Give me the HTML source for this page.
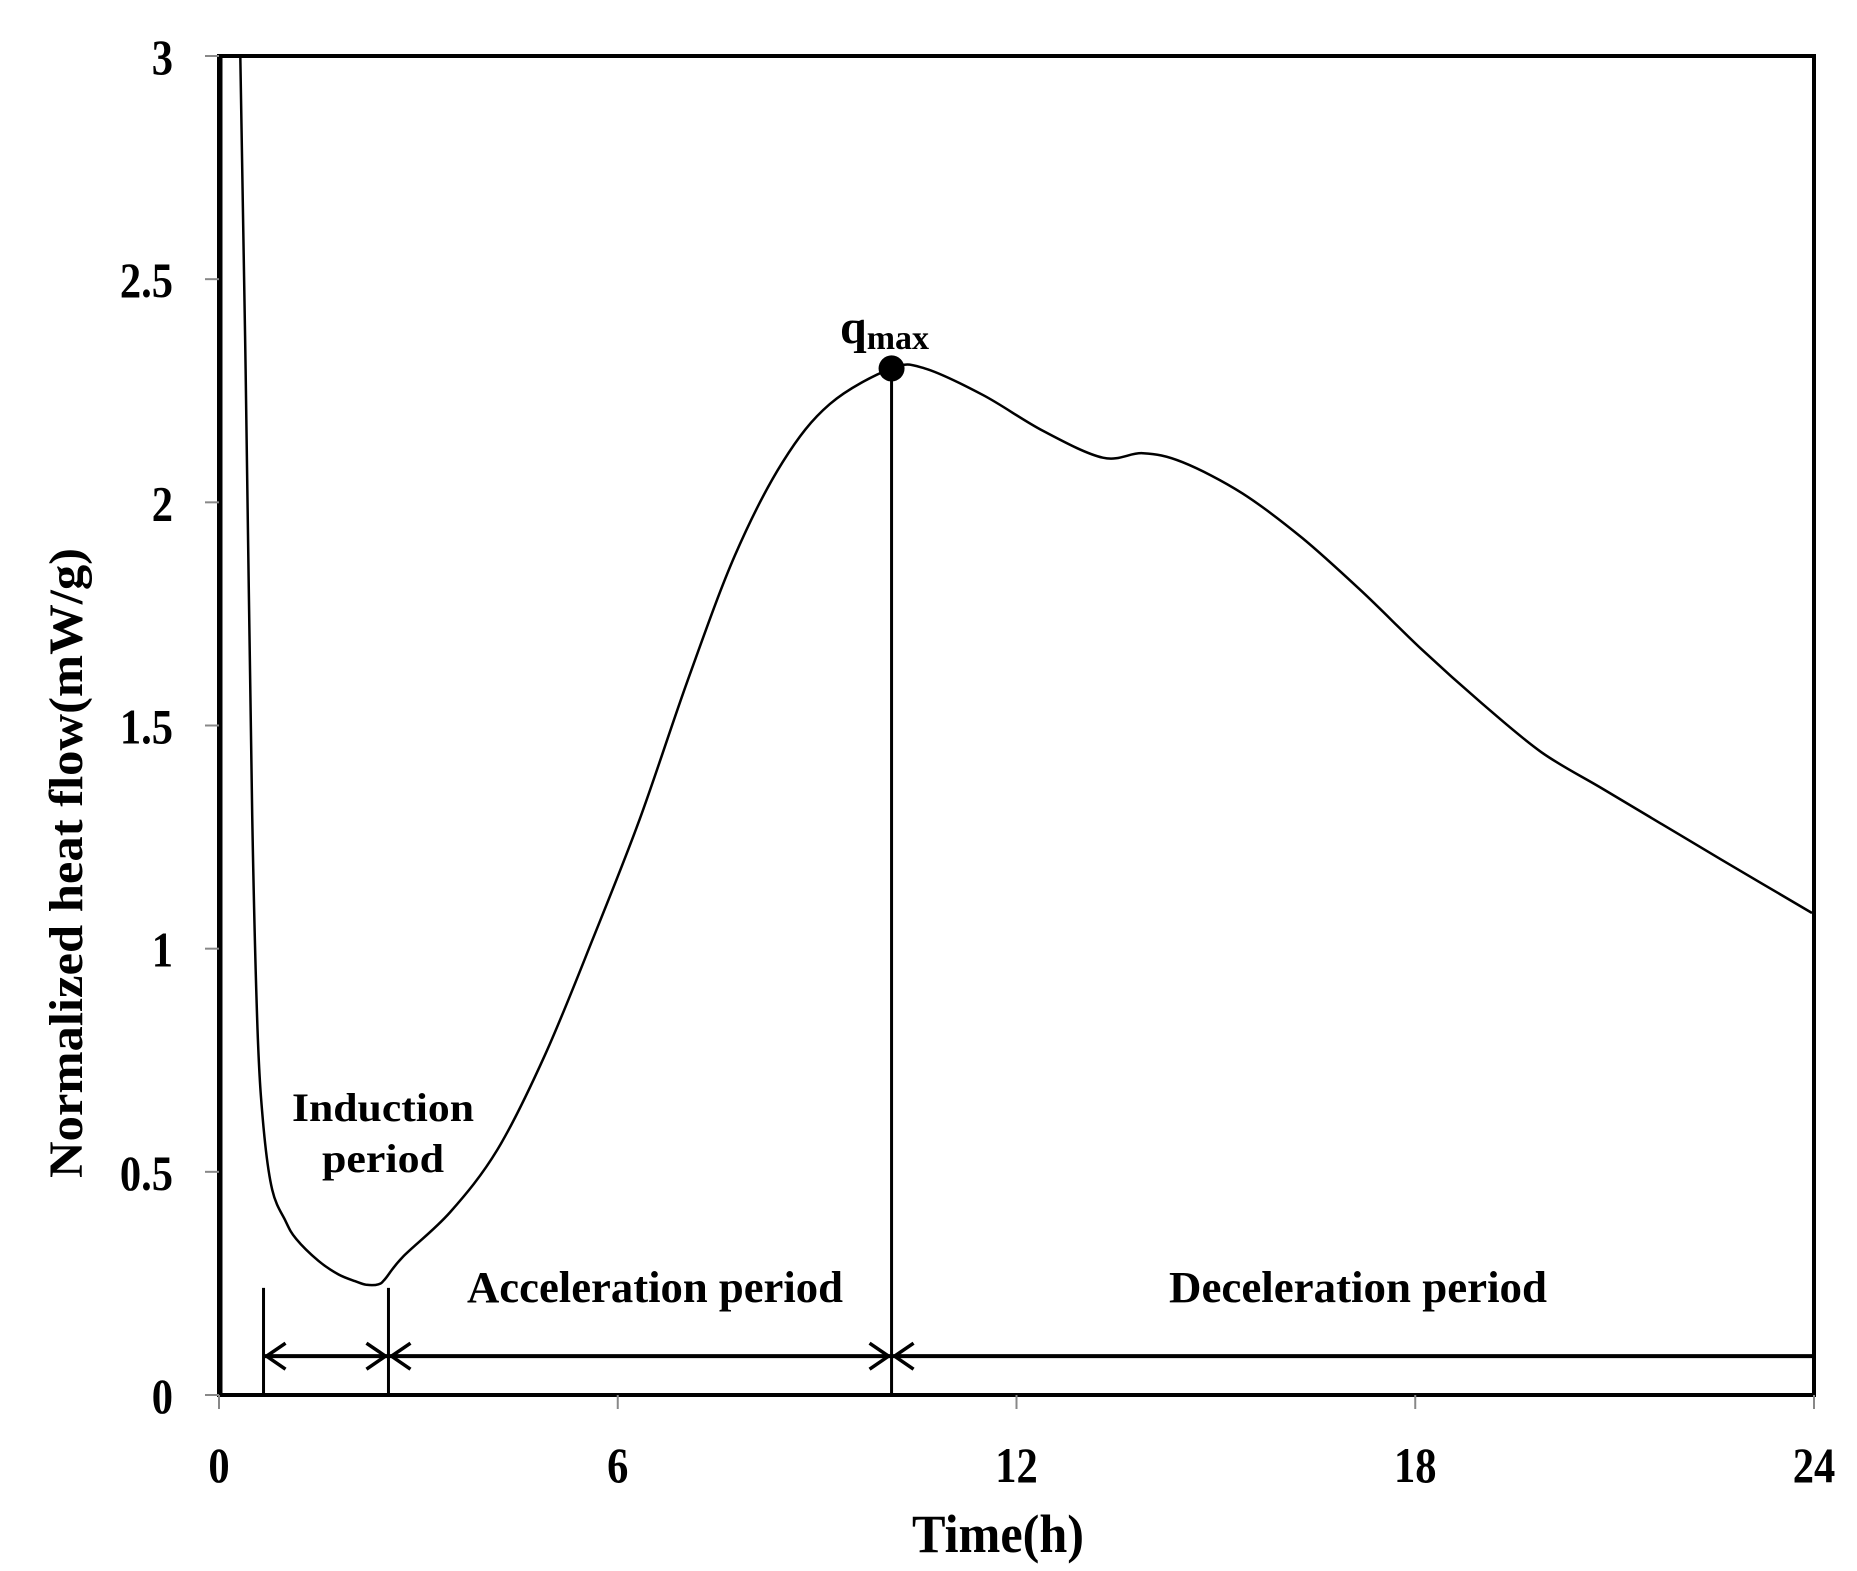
<!DOCTYPE html>
<html><head><meta charset="utf-8"><style>
html,body{margin:0;padding:0;background:#fff}
svg{display:block}
text{font-family:"Liberation Serif",serif;font-weight:bold;fill:#000}
</style></head><body>
<svg id="chart" width="1857" height="1571" viewBox="0 0 1857 1571">
<g id="axes"></g>
<g id="marks"></g>
<g id="labels"></g>
</svg>
<script>
const xTicks = [0, 6, 12, 18, 24];
const yTicks = [0, 0.5, 1, 1.5, 2, 2.5, 3];
const yTickLabels = ["0", "0.5", "1", "1.5", "2", "2.5", "3"];
const times = [0.32, 0.4, 0.5, 0.58, 0.67, 0.8, 1.0, 1.16, 1.5, 1.8, 2.05, 2.22, 2.4, 2.5, 2.77, 3.48, 4.19, 4.9, 5.62, 6.33, 7.05, 7.76, 8.48, 9.19, 10.12, 10.62, 11.5, 12.4, 13.3, 13.9, 14.5, 15.4, 16.3, 17.2, 18.1, 19.0, 19.9, 20.8, 21.7, 22.6, 23.97];
const heatFlow = [3.0, 2.3, 1.3, 0.82, 0.6, 0.46, 0.39, 0.35, 0.30, 0.27, 0.255, 0.247, 0.248, 0.26, 0.31, 0.41, 0.55, 0.76, 1.02, 1.29, 1.60, 1.88, 2.09, 2.22, 2.30, 2.30, 2.24, 2.16, 2.10, 2.11, 2.09, 2.02, 1.92, 1.80, 1.67, 1.55, 1.44, 1.36, 1.28, 1.20, 1.08];
const phaseBounds = [0.67, 2.55, 10.12, 24];
const qmaxPoint = [10.12, 2.30];
const arrowLevel = 0.087;
const phaseTickTop = 0.24;

const X0 = 219, X1 = 1814, Y0 = 1395, Y1 = 56;
const xs = t => X0 + (t / 24) * (X1 - X0);
const ys = v => Y0 - (v / 3) * (Y0 - Y1);
const NS = "http://www.w3.org/2000/svg";
function mk(tag, parent, attrs) {
  const e = document.createElementNS(NS, tag);
  for (const k in attrs) e.setAttribute(k, attrs[k]);
  parent.appendChild(e);
  return e;
}
const axes = document.getElementById('axes');
const marks = document.getElementById('marks');
const labels = document.getElementById('labels');

const defs = mk('defs', document.getElementById('chart'), {});
const cp = mk('clipPath', defs, {id: 'plotclip'});
mk('rect', cp, {x: X0, y: Y1, width: X1 - X0, height: Y0 - Y1});

const frame = mk('rect', axes, {x: X0, y: Y1, width: X1 - X0, height: Y0 - Y1, fill: 'none', stroke: '#000', 'stroke-width': 4});



function label(txt, x, y, size, name, extra) {
  const t = mk('text', labels, Object.assign({x: x, y: y, 'text-anchor': 'middle', 'font-size': size}, extra || {}));
  t.textContent = txt;
  
  
  return t;
}

yTicks.forEach((v, i) => {
  const tk = mk('line', axes, {x1: X0 - 14, x2: X0, y1: ys(v), y2: ys(v), stroke: '#888', 'stroke-width': 2});
  
  
  const t = mk('text', axes, {x: 173, y: ys(v) + 18, 'text-anchor': 'end', 'font-size': 50, transform: `translate(173,0) scale(0.85,1) translate(-173,0)`});
  t.textContent = yTickLabels[i];
  
  
});
xTicks.forEach(v => {
  const tk = mk('line', axes, {x1: xs(v), x2: xs(v), y1: Y0, y2: Y0 + 14, stroke: '#888', 'stroke-width': 2});
  
  
  const cx = xs(v);
  const t = mk('text', axes, {x: cx, y: 1482, 'text-anchor': 'middle', 'font-size': 50, transform: `translate(${cx},0) scale(0.85,1) translate(${-cx},0)`});
  t.textContent = String(v);
  
  
});

// initial spike along axis
const spike = mk('line', marks, {x1: xs(0) + 2, x2: xs(0) + 2, y1: Y0, y2: Y1, stroke: '#000', 'stroke-width': 3});



// smooth curve (Catmull-Rom)
const P = times.map((t, i) => [xs(t), ys(heatFlow[i])]);
let d = 'M' + P[0][0].toFixed(1) + ',' + P[0][1].toFixed(1);
for (let i = 0; i < P.length - 1; i++) {
  const p0 = P[Math.max(0, i - 1)], p1 = P[i], p2 = P[i + 1], p3 = P[Math.min(P.length - 1, i + 2)];
  const c1 = [p1[0] + (p2[0] - p0[0]) / 6, p1[1] + (p2[1] - p0[1]) / 6];
  const c2 = [p2[0] - (p3[0] - p1[0]) / 6, p2[1] - (p3[1] - p1[1]) / 6];
  d += `C${c1[0].toFixed(1)},${c1[1].toFixed(1)} ${c2[0].toFixed(1)},${c2[1].toFixed(1)} ${p2[0].toFixed(1)},${p2[1].toFixed(1)}`;
}
const curve = mk('path', marks, {d: d, fill: 'none', stroke: '#000', 'stroke-width': 2.5, 'stroke-linejoin': 'round', 'clip-path': 'url(#plotclip)'});



[phaseBounds[0], phaseBounds[1]].forEach(b => {
  const l = mk('line', marks, {x1: xs(b), x2: xs(b), y1: ys(phaseTickTop), y2: Y0, stroke: '#000', 'stroke-width': 3});
  
  
});
const ql = mk('line', marks, {x1: xs(qmaxPoint[0]), x2: xs(qmaxPoint[0]), y1: ys(qmaxPoint[1]), y2: Y0, stroke: '#000', 'stroke-width': 3});



const ay = ys(arrowLevel);
for (let i = 0; i < phaseBounds.length - 1; i++) {
  const a = xs(phaseBounds[i]), b = xs(phaseBounds[i + 1]);
  const l = mk('line', marks, {x1: a, x2: b, y1: ay, y2: ay, stroke: '#000', 'stroke-width': 4});
  
  
  const h1 = mk('path', marks, {d: `M${a + 22},${ay - 13}L${a + 3},${ay}L${a + 22},${ay + 13}`, fill: 'none', stroke: '#000', 'stroke-width': 3.5});
  
  
  if (i < phaseBounds.length - 2) {
    const h2 = mk('path', marks, {d: `M${b - 22},${ay - 13}L${b - 3},${ay}L${b - 22},${ay + 13}`, fill: 'none', stroke: '#000', 'stroke-width': 3.5});
    
    
  }
}
const dot = mk('circle', marks, {cx: xs(qmaxPoint[0]), cy: ys(qmaxPoint[1]), r: 13, fill: '#000'});



const qt = mk('text', labels, {x: 840, y: 343, 'font-size': 48});


qt.innerHTML = 'q<tspan font-size="34" dy="6">max</tspan>';
const sg = {lengthAdjust: 'spacingAndGlyphs'};
label('Induction', 383, 1121, 40, 'induction-label', Object.assign({textLength: 182}, sg));
label('period', 383, 1172, 40, 'induction-label-2', Object.assign({textLength: 122}, sg));
label('Acceleration period', 655, 1302, 44, 'acceleration-label', Object.assign({textLength: 376}, sg));
label('Deceleration period', 1358, 1302, 44, 'deceleration-label', Object.assign({textLength: 378}, sg));
label('Time(h)', 998, 1552, 54, 'x-axis-title', Object.assign({textLength: 172}, sg));
label('Normalized heat flow(mW/g)', 0, 0, 48, 'y-axis-title', Object.assign({transform: 'translate(82,863) rotate(-90)', textLength: 630}, sg));
</script>
</body></html>
